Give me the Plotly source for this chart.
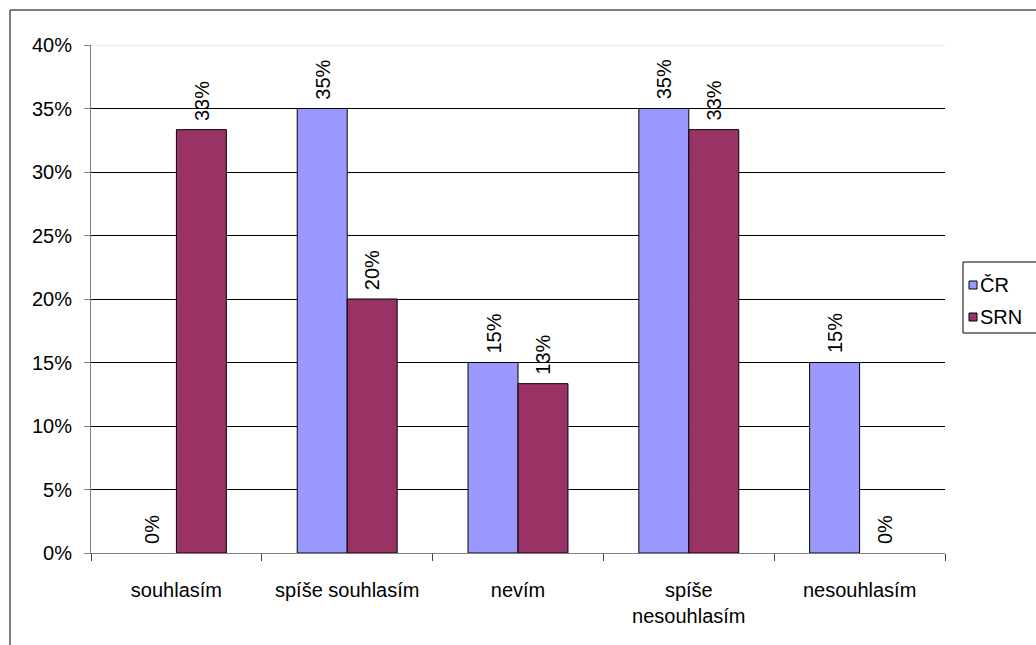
import plotly.graph_objects as go

categories = ["souhlasím", "spíše souhlasím", "nevím", "spíše<br>nesouhlasím", "nesouhlasím"]
series_names = ["ČR", "SRN"]
cr_values = [0.0, 0.35, 0.15, 0.35, 0.15]
srn_values = [1 / 3, 0.20, 2 / 15, 1 / 3, 0.0]
series_colors = ["#9999FF", "#993366"]
y_ticks = [0, 0.05, 0.10, 0.15, 0.20, 0.25, 0.30, 0.35, 0.40]
y_tick_text = ["0%", "5%", "10%", "15%", "20%", "25%", "30%", "35%", "40%"]

FONT = "Liberation Sans, Arial, sans-serif"
W, H = 1036, 645
L, R, T, B = 91, 91, 45, 92
pw, ph = W - L - R, H - T - B
BARGAP = 0.415


def px_x(px):
    return (px - L) / pw


def px_y(py):
    return (H - B - py) / ph


series = [cr_values, srn_values]
n_series = len(series)
bar_px = pw / len(categories) * (1 - BARGAP) / n_series

fig = go.Figure()
for i, (name, vals, color) in enumerate(zip(series_names, series, series_colors)):
    fig.add_trace(go.Bar(
        name=name, x=categories, y=vals,
        marker=dict(color=color,
                    line=dict(color="black", width=[0 if v == 0 else 1 for v in vals])),
        showlegend=False, hoverinfo="x+y+name",
    ))
    # rotated value labels sitting just above each bar
    offset = (i - (n_series - 1) / 2) * bar_px
    for cat, v in zip(categories, vals):
        fig.add_annotation(
            x=cat, y=v, xref="x", yref="y", text=f"{v:.0%}",
            textangle=-90, showarrow=False, xanchor="center", yanchor="bottom",
            xshift=offset, yshift=7,
            font=dict(family=FONT, size=20, color="black"),
        )

# outer chart frame
fig.add_shape(type="rect", xref="paper", yref="paper",
              x0=px_x(10), x1=px_x(W + 20), y0=px_y(H + 20), y1=px_y(10),
              line=dict(color="black", width=1), layer="below")
# light top edge of the plot area
fig.add_shape(type="line", xref="paper", yref="y", x0=0, x1=1, y0=0.40, y1=0.40,
              line=dict(color="#D9D9D9", width=1), layer="above")

# legend box with swatches
fig.add_shape(type="rect", xref="paper", yref="paper",
              x0=px_x(963), x1=px_x(W + 20), y0=px_y(333), y1=px_y(262),
              line=dict(color="black", width=1), fillcolor="white")
for j, (name, color) in enumerate(zip(series_names, series_colors)):
    cy = 285 + 32 * j
    fig.add_shape(type="rect", xref="paper", yref="paper",
                  x0=px_x(969), x1=px_x(977), y0=px_y(cy + 4), y1=px_y(cy - 4),
                  line=dict(color="black", width=1), fillcolor=color)
    fig.add_annotation(x=px_x(978), y=px_y(cy), xref="paper", yref="paper",
                       text=name, showarrow=False, xanchor="left", yanchor="middle",
                       font=dict(family=FONT, size=20, color="black"))

fig.update_layout(
    width=W, height=H,
    margin=dict(l=L, r=R, t=T, b=B, autoexpand=False),
    paper_bgcolor="white", plot_bgcolor="white",
    barmode="group", bargap=BARGAP, bargroupgap=0,
    font=dict(family=FONT, size=20, color="black"),
    showlegend=False,
    xaxis=dict(showline=True, linecolor="#808080", linewidth=1,
               ticks="outside", tickson="boundaries", ticklen=7, tickcolor="#404040",
               showgrid=False, ticklabelstandoff=19, tickfont=dict(family=FONT, size=20)),
    yaxis=dict(range=[0, 0.40], tickvals=y_ticks, ticktext=y_tick_text,
               showline=True, linecolor="#808080", linewidth=1,
               ticks="outside", ticklen=6, tickcolor="#808080",
               showgrid=True, gridcolor="black", gridwidth=1,
               zeroline=False, ticklabelstandoff=8,
               tickfont=dict(family=FONT, size=20)),
)

fig.write_html("out.html")
